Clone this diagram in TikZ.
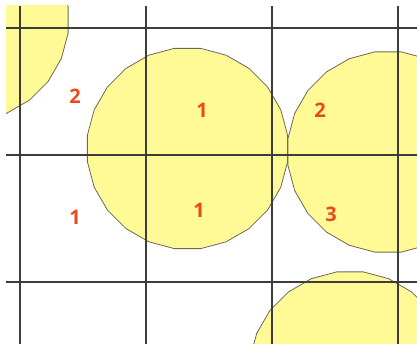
\documentclass[tikz,border=0pt]{standalone}
\usepackage{fontspec}
\setsansfont{Open Sans}
\definecolor{diskYellow}{RGB}{255,250,150}
\definecolor{diskEdge}{RGB}{105,105,85}
\definecolor{gridGray}{RGB}{60,60,60}
\definecolor{countRed}{RGB}{236,72,30}

\begin{document}
\begin{tikzpicture}[x=1pt,y=-1pt,
  disk/.style={fill=diskYellow,draw=diskEdge,line width=0.8pt},
  gridline/.style={draw=gridGray,line width=1.3pt},
  count/.style={text=countRed,font=\sffamily\bfseries\fontsize{20}{20}\selectfont}]
\useasboundingbox (0,0) rectangle (417,344);
\begin{scope}
\clip (6,6) rectangle (417,344);
% disks
\foreach \cx/\cy in {-32/20, 187.5/148.5, 388/152, 350/372}
  \draw[disk] plot[domain=7.5:367.5,samples=25] ({\cx+101*cos(\x)},{\cy+101*sin(\x)}) -- cycle;
% grid
\foreach \gx in {20,146,272,398}
  \draw[gridline] (\gx,6) -- (\gx,344);
\foreach \gy in {28,155,282}
  \draw[gridline] (6,\gy) -- (417,\gy);
\end{scope}
% counts
\node[count] (nwTop) at (75,96) {2};
\node[count] (midTop) at (202,110) {1};
\node[count] (eastTop) at (320,110) {2};
\node[count] (nwLow) at (75,217) {1};
\node[count] (midLow) at (199,210) {1};
\node[count] (eastLow) at (331,214) {3};
\end{tikzpicture}
\end{document}
